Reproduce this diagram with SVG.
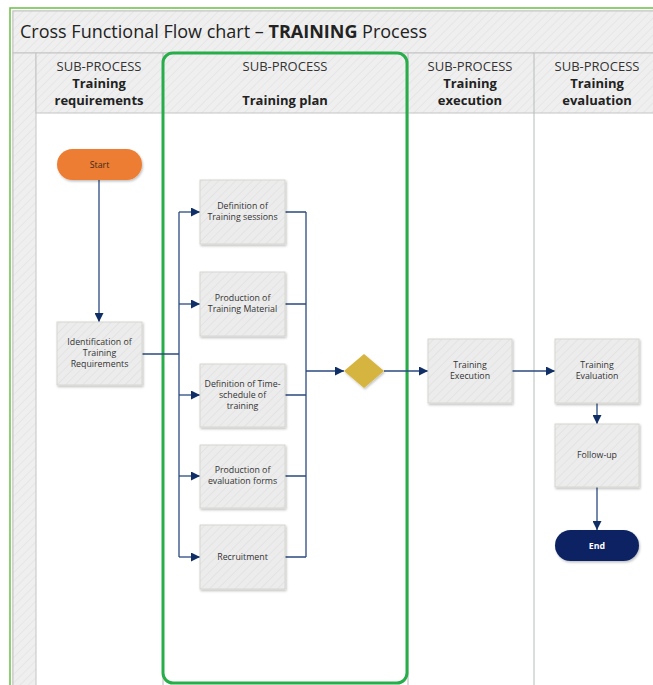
<svg xmlns="http://www.w3.org/2000/svg" width="653" height="685" viewBox="0 0 653 685">
<defs>
<pattern id="hatch" width="6" height="6" patternUnits="userSpaceOnUse" patternTransform="rotate(45)">
<rect width="6" height="6" fill="#efefef"/>
<line x1="0" y1="0" x2="0" y2="6" stroke="#e6e6e6" stroke-width="2"/>
</pattern>
<pattern id="hatchBox" width="6" height="6" patternUnits="userSpaceOnUse" patternTransform="rotate(45)">
<rect width="6" height="6" fill="#ececec"/>
<line x1="0" y1="0" x2="0" y2="6" stroke="#e3e3e3" stroke-width="2"/>
</pattern>
<filter id="sh" x="-10%" y="-10%" width="130%" height="130%">
<feDropShadow dx="1" dy="1.5" stdDeviation="1" flood-color="#000" flood-opacity="0.25"/>
</filter>
<marker id="arr" viewBox="0 0 10 10" refX="10" refY="5" markerWidth="9" markerHeight="9" markerUnits="userSpaceOnUse" orient="auto">
<path d="M0,0 L10,5 L0,10 z" fill="#0f2f66"/>
</marker>
<style>
.t{font-family:"Segoe UI","Open Sans","Noto Sans","Liberation Sans",sans-serif;fill:#222}
.hd{font-size:13px;text-anchor:middle;fill:#333}
.hb{font-size:13px;font-weight:bold;text-anchor:middle;fill:#222}
.bx{fill:url(#hatchBox);stroke:#d6d6cf;stroke-width:1;filter:url(#sh)}
.bt{font-size:8.8px;text-anchor:middle;fill:#333}
.wt{fill:#ffffff;font-weight:bold}
.ot{fill:#3a2a20}
.ln{fill:none;stroke:#2a4a7f;stroke-width:1.3}
.lane{stroke:#b8bcbc;stroke-width:1}
</style>
</defs>
<rect width="653" height="685" fill="#ffffff"/>
<g id="frame">
<rect x="13" y="11" width="650" height="690" fill="#fff" stroke="#bdbdbd" stroke-width="1"/>
<rect x="13" y="11" width="650" height="42" fill="url(#hatch)" stroke="#c4c4c4" stroke-width="1"/>
<rect x="13" y="53" width="23" height="640" fill="url(#hatch)" stroke="#c4c4c4" stroke-width="1"/>
<rect x="36" y="53" width="627" height="60" fill="url(#hatch)" stroke="#c4c4c4" stroke-width="1"/>
<line class="lane" x1="163" y1="53" x2="163" y2="690"/>
<line class="lane" x1="408" y1="53" x2="408" y2="690"/>
<line class="lane" x1="534" y1="53" x2="534" y2="690"/>
<rect x="10" y="8" width="660" height="700" fill="none" stroke="#6cbf45" stroke-width="1.5"/>
<text class="t" x="20" y="38" font-size="18">Cross Functional Flow chart – <tspan font-weight="bold">TRAINING</tspan> Process</text>
</g>
<g id="lane-headers">
<text class="t hd" x="99" y="71">SUB-PROCESS</text>
<text class="t hb" x="99" y="88">Training</text>
<text class="t hb" x="99" y="105">requirements</text>
<text class="t hd" x="285" y="71">SUB-PROCESS</text>
<text class="t hb" x="285" y="105">Training plan</text>
<text class="t hd" x="470" y="71">SUB-PROCESS</text>
<text class="t hb" x="470" y="88">Training</text>
<text class="t hb" x="470" y="105">execution</text>
<text class="t hd" x="597" y="71">SUB-PROCESS</text>
<text class="t hb" x="597" y="88">Training</text>
<text class="t hb" x="597" y="105">evaluation</text>
</g>
<g id="highlight">
<rect x="163" y="53" width="244" height="630" rx="10" fill="none" stroke="#27ae4b" stroke-width="3"/>
</g>
<g id="connectors">
<path class="ln" d="M99,180 V322" marker-end="url(#arr)"/>
<path class="ln" d="M142,354 H179"/>
<path class="ln" d="M179,212 V557"/>
<path class="ln" d="M179,212 H200" marker-end="url(#arr)"/>
<path class="ln" d="M179,304 H200" marker-end="url(#arr)"/>
<path class="ln" d="M179,395 H200" marker-end="url(#arr)"/>
<path class="ln" d="M179,476 H200" marker-end="url(#arr)"/>
<path class="ln" d="M179,557 H200" marker-end="url(#arr)"/>
<path class="ln" d="M285,212 H306 M285,304 H306 M285,395 H306 M285,476 H306 M285,557 H306"/>
<path class="ln" d="M306,212 V557"/>
<path class="ln" d="M306,371 H344" marker-end="url(#arr)"/>
<path class="ln" d="M384,371 H428" marker-end="url(#arr)"/>
<path class="ln" d="M512,371 H555" marker-end="url(#arr)"/>
<path class="ln" d="M597,403 V424" marker-end="url(#arr)"/>
<path class="ln" d="M597,487 V530" marker-end="url(#arr)"/>
</g>
<g id="start">
<rect x="57" y="149" width="85" height="31" rx="15.5" fill="#ed7d31" filter="url(#sh)"/>
<text class="t bt ot" x="99.5" y="168">Start</text>
</g>
<g id="identification">
<rect class="bx" x="57" y="322" width="85" height="63"/>
<text class="t bt" x="99.5" y="345">Identification of</text>
<text class="t bt" x="99.5" y="356">Training</text>
<text class="t bt" x="99.5" y="367">Requirements</text>
</g>
<g id="def-sessions">
<rect class="bx" x="200" y="180" width="85" height="64"/>
<text class="t bt" x="242.5" y="209">Definition of</text>
<text class="t bt" x="242.5" y="220">Training sessions</text>
</g>
<g id="prod-material">
<rect class="bx" x="200" y="272" width="85" height="64"/>
<text class="t bt" x="242.5" y="301">Production of</text>
<text class="t bt" x="242.5" y="312">Training Material</text>
</g>
<g id="def-timeschedule">
<rect class="bx" x="200" y="364" width="85" height="63"/>
<text class="t bt" x="242.5" y="387">Definition of Time-</text>
<text class="t bt" x="242.5" y="398">schedule of</text>
<text class="t bt" x="242.5" y="409">training</text>
</g>
<g id="prod-evalforms">
<rect class="bx" x="200" y="445" width="85" height="63"/>
<text class="t bt" x="242.5" y="473">Production of</text>
<text class="t bt" x="242.5" y="484">evaluation forms</text>
</g>
<g id="recruitment">
<rect class="bx" x="200" y="525" width="85" height="64"/>
<text class="t bt" x="242.5" y="560">Recruitment</text>
</g>
<g id="decision">
<path d="M364,354 L384,371 L364,388 L344,371 Z" fill="#d6b43f" filter="url(#sh)"/>
</g>
<g id="training-execution">
<rect class="bx" x="428" y="339" width="84" height="64"/>
<text class="t bt" x="470" y="368">Training</text>
<text class="t bt" x="470" y="379">Execution</text>
</g>
<g id="training-evaluation">
<rect class="bx" x="555" y="339" width="84" height="64"/>
<text class="t bt" x="597" y="368">Training</text>
<text class="t bt" x="597" y="379">Evaluation</text>
</g>
<g id="follow-up">
<rect class="bx" x="555" y="424" width="84" height="63"/>
<text class="t bt" x="597" y="458">Follow-up</text>
</g>
<g id="end">
<rect x="555" y="530" width="84" height="31" rx="15.5" fill="#0a2463" filter="url(#sh)"/>
<text class="t bt wt" x="597" y="549">End</text>
</g>
</svg>
